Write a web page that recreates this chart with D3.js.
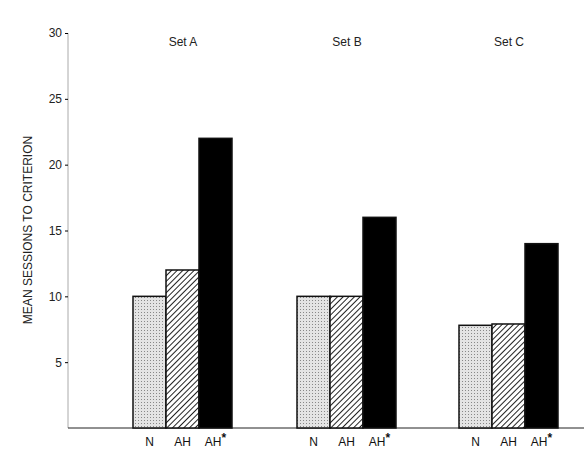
<!DOCTYPE html><html><head><script src="https://d3js.org/d3.v7.min.js"></script>
<style>body{margin:0;background:#fff}</style></head><body><svg width="584" height="456"></svg><script>
const sets=["Set A","Set B","Set C"];
const conds=["N","AH","AH*"];
const valN=[10,10,7.8];
const valAH=[12,10,7.9];
const valAHs=[22,16,14];
const yTicks=[5,10,15,20,25,30];
const svg=d3.select("svg");
const defs=svg.append("defs");
const dots=defs.append("pattern").attr("id","dots").attr("width",3).attr("height",3).attr("patternUnits","userSpaceOnUse");
dots.append("rect").attr("width",3).attr("height",3).attr("fill","#e4e4e4");
dots.append("rect").attr("width",1).attr("height",1).attr("fill","#888");
const hatch=defs.append("pattern").attr("id","hatch").attr("width",4).attr("height",4).attr("patternUnits","userSpaceOnUse").attr("patternTransform","rotate(45)");
hatch.append("rect").attr("width",4).attr("height",4).attr("fill","#fff");
hatch.append("line").attr("x1",0).attr("y1",0).attr("x2",0).attr("y2",4).attr("stroke","#222").attr("stroke-width",2);
const fills=["url(#dots)","url(#hatch)","#000"];
const y=d3.scaleLinear().domain([0,30]).range([428,33]);
const x0=d3.scaleBand().domain(sets).range([68,620]).paddingInner(0).paddingOuter(0);
const x0c=d3.scaleOrdinal().domain(sets).range([133,297,459]);
const x1=d3.scaleBand().domain(conds).range([0,99]);
const g=svg.append("g").attr("font-family","Liberation Sans, Arial, sans-serif");
// axis
const ax=d3.axisLeft(y).tickValues(yTicks).tickSize(3);
const axg=g.append("g").attr("transform","translate(68,0)").call(ax);
axg.select(".domain").attr("stroke","#aaa").attr("d","M0,428V33");
axg.selectAll("text").attr("font-size",12).attr("fill","#222");
g.append("line").attr("x1",68).attr("x2",584).attr("y1",428).attr("y2",428).attr("stroke","#222");
g.append("text").attr("transform","translate(32,230) rotate(-90)").attr("text-anchor","middle").attr("font-size",12).attr("fill","#222").text("MEAN SESSIONS TO CRITERION");
const vals=[valN,valAH,valAHs];
sets.forEach((s,i)=>{
  const bx=x0c(s);
  conds.forEach((c,j)=>{
    g.append("rect").attr("x",bx+x1(c)).attr("y",y(vals[j][i])).attr("width",x1.bandwidth()).attr("height",y(0)-y(vals[j][i])).attr("fill",fills[j]).attr("stroke","#111").attr("stroke-width",1.5);
    const t=g.append("text").attr("x",bx+x1(c)+x1.bandwidth()/2).attr("y",446).attr("text-anchor","middle").attr("font-size",12).attr("fill","#111");
    if(c==="AH*"){t.text("AH");t.append("tspan").attr("dy",-4).attr("font-weight","bold").text("*");}else t.text(c);
  });
  g.append("text").attr("x",bx+x1.bandwidth()*2-16).attr("y",46).attr("text-anchor","middle").attr("font-size",12).attr("fill","#222").text(s);
});
</script></body></html>
